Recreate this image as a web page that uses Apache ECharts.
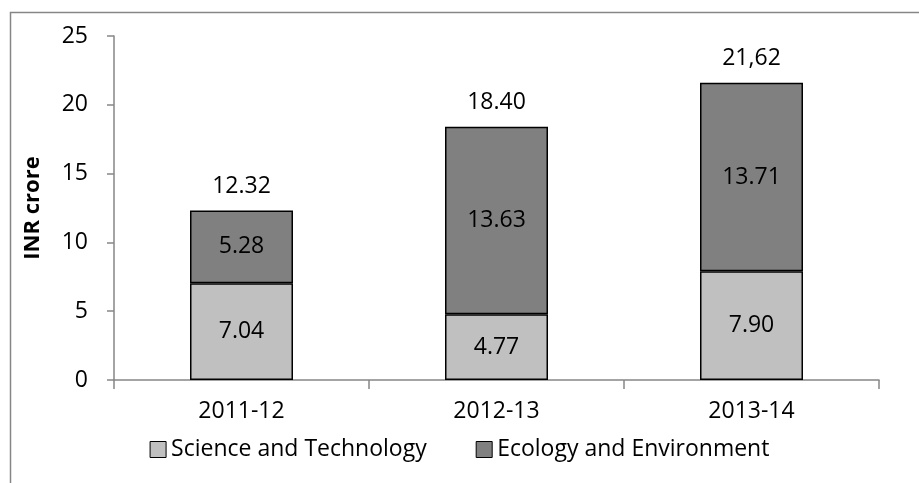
<!DOCTYPE html>
<html style="height: 100%">
<head>
    <meta charset="utf-8">
    <script src="https://cdn.jsdelivr.net/npm/echarts@6/dist/echarts.min.js"></script>
</head>
<body style="height: 100%; margin: 0; background: #fff">
    <div id="container" style="width: 919px; height: 483px"></div>
    <script type="text/javascript">
        var myChart = echarts.init(document.getElementById('container'));

        const lightGray = '#c0c0c0', darkGray = '#808080', axisGray = '#868686';
        const font = 'Open Sans';

        // data
        var years = ['2011-12', '2012-13', '2013-14'];
        var sciTech = [7.04, 4.77, 7.90];
        var ecology = [5.28, 13.63, 13.71];
        var totals = [12.32, 18.40, 21.62];
        var totalLabels = ['12.32', '18.40', '21,62'];
        var yTicks = [0, 5, 10, 15, 20, 25];

        var option = {
            animation: false,
            textStyle: { fontFamily: font, color: '#000' },
            graphic: [{
                type: 'rect',
                shape: { x: 10.5, y: 12.5, width: 1000, height: 600 },
                style: { fill: 'none', stroke: axisGray, lineWidth: 1.5 }
            }],
            grid: { left: 114, right: 40, top: 36, bottom: 103 },
            legend: {
                data: ['Science and Technology', 'Ecology and Environment'],
                bottom: 17,
                left: 'center',
                itemWidth: 16,
                itemHeight: 16,
                itemGap: 49,
                icon: 'rect',
                itemStyle: { borderColor: '#000', borderWidth: 1 },
                textStyle: { fontFamily: font, fontSize: 23, color: '#000' }
            },
            xAxis: {
                type: 'category',
                data: years,
                axisLine: { lineStyle: { color: axisGray, width: 1.5 } },
                axisTick: { show: true, length: 9, lineStyle: { color: axisGray, width: 1.5 } },
                axisLabel: { fontFamily: font, fontSize: 23, color: '#000', margin: 20 }
            },
            yAxis: {
                type: 'value',
                min: yTicks[0], max: yTicks[yTicks.length - 1], interval: 5,
                name: 'INR crore',
                nameLocation: 'middle',
                nameGap: 70,
                nameTextStyle: { fontFamily: font, fontSize: 22, fontWeight: 'bold', color: '#000' },
                axisLine: { show: true, lineStyle: { color: axisGray, width: 1.5 } },
                axisTick: { show: true, length: 7, lineStyle: { color: axisGray, width: 1.5 } },
                axisLabel: { fontFamily: font, fontSize: 23, color: '#000', margin: 26 },
                splitLine: { show: false }
            },
            series: [
                {
                    name: 'Science and Technology', type: 'bar', stack: 'total',
                    barWidth: 103,
                    itemStyle: { color: lightGray, borderColor: '#000', borderWidth: 1.5 },
                    label: { show: true, position: 'inside', fontFamily: font, fontSize: 23, color: '#000',
                        formatter: function (p) { return p.value.toFixed(2); } },
                    data: sciTech
                },
                {
                    name: 'Ecology and Environment', type: 'bar', stack: 'total',
                    barWidth: 103,
                    itemStyle: { color: darkGray, borderColor: '#000', borderWidth: 1.5 },
                    label: { show: true, position: 'inside', fontFamily: font, fontSize: 23, color: '#000',
                        formatter: function (p) { return p.value.toFixed(2); } },
                    data: ecology
                },
                {
                    name: 'Total', type: 'scatter',
                    symbol: 'circle',
                    symbolSize: 1,
                    itemStyle: { color: 'rgba(0,0,0,0)', opacity: 1 },
                    label: { show: true, position: 'top', distance: 12, fontFamily: font, fontSize: 23, color: '#000',
                        formatter: function (p) { return totalLabels[p.dataIndex]; } },
                    data: totals,
                    z: 5
                }
            ]
        };

        myChart.setOption(option);
    </script>
</body>
</html>
